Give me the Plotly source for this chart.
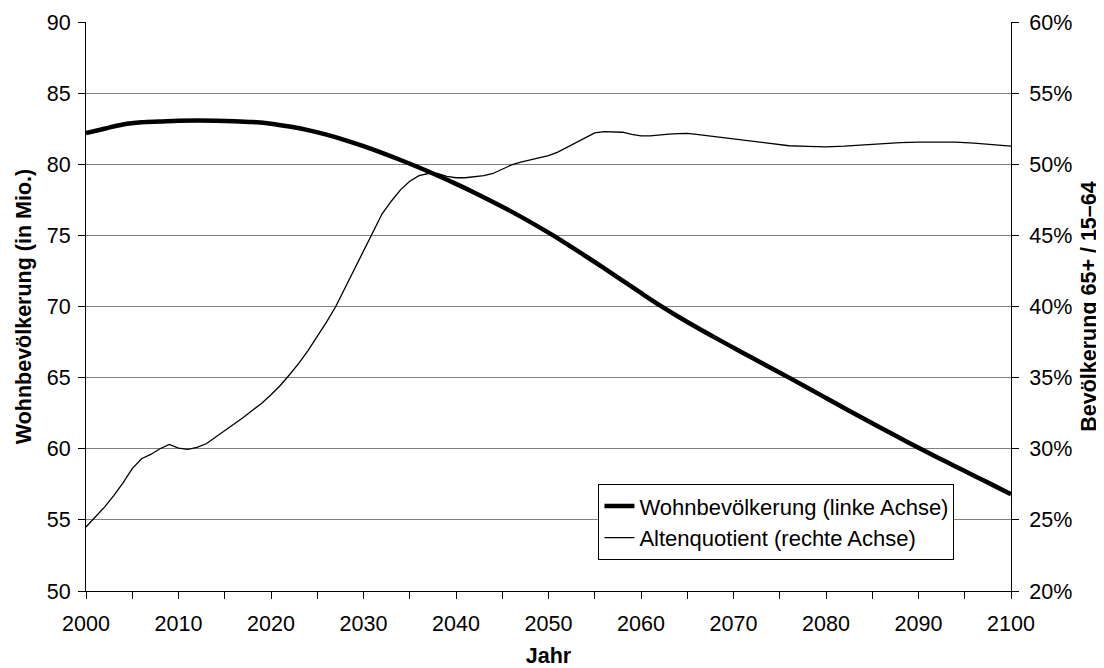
import plotly.graph_objects as go

# --- data ---
years_pop = [2000, 2002, 2004, 2006, 2008, 2010, 2012, 2014, 2016, 2018,
             2020, 2022, 2024, 2026, 2028, 2030, 2032, 2034, 2036, 2038,
             2040, 2042, 2044, 2046, 2048, 2050, 2052, 2054, 2056, 2058,
             2060, 2062, 2064, 2066, 2068, 2070, 2072, 2074, 2076, 2078,
             2080, 2082, 2084, 2086, 2088, 2090, 2092, 2094, 2096, 2098, 2100]
population = [82.2, 82.5, 82.8, 82.95, 83.0, 83.05, 83.07, 83.06, 83.03, 82.97,
              82.85, 82.65, 82.4, 82.08, 81.7, 81.27, 80.8, 80.3, 79.77, 79.21,
              78.62, 78.0, 77.35, 76.67, 75.95, 75.19, 74.39, 73.55, 72.69, 71.82,
              70.95, 70.1, 69.3, 68.54, 67.81, 67.1, 66.4, 65.7, 65.0, 64.29,
              63.57, 62.85, 62.14, 61.44, 60.75, 60.07, 59.41, 58.76, 58.11, 57.46, 56.8]

years_aq = [2000, 2001, 2002, 2003, 2004, 2005, 2006, 2007, 2008, 2009,
            2010, 2011, 2012, 2013, 2014, 2015, 2016, 2017, 2018, 2019,
            2020, 2021, 2022, 2023, 2024, 2025, 2026, 2027, 2028, 2029,
            2030, 2031, 2032, 2033, 2034, 2035, 2036, 2037, 2038, 2039,
            2040, 2041, 2042, 2043, 2044, 2045, 2046, 2047, 2048, 2049,
            2050, 2051, 2052, 2053, 2054, 2055, 2056, 2057, 2058, 2059,
            2060, 2061, 2062, 2063, 2064, 2065, 2066, 2068, 2070, 2072,
            2074, 2076, 2078, 2080, 2082, 2084, 2086, 2088, 2090, 2092,
            2094, 2096, 2098, 2100]
altenquotient = [24.5, 25.2, 25.9, 26.7, 27.6, 28.6, 29.3, 29.6, 30.0, 30.3,
                 30.05, 29.95, 30.1, 30.35, 30.8, 31.3, 31.75, 32.2, 32.7, 33.2,
                 33.8, 34.45, 35.2, 36.0, 36.9, 37.9, 38.9, 40.0, 41.3, 42.6,
                 44.0, 45.3, 46.5, 47.4, 48.2, 48.8, 49.2, 49.35, 49.35, 49.15,
                 49.05, 49.05, 49.1, 49.2, 49.35, 49.65, 49.95, 50.15, 50.3, 50.45,
                 50.6, 50.85, 51.2, 51.55, 51.9, 52.2, 52.3, 52.3, 52.25, 52.1,
                 52.0, 52.0, 52.08, 52.12, 52.15, 52.17, 52.1, 51.95, 51.8, 51.6,
                 51.45, 51.3, 51.25, 51.22, 51.27, 51.35, 51.45, 51.52, 51.55, 51.57,
                 51.55, 51.48, 51.4, 51.28]

name_pop = "Wohnbevölkerung (linke Achse)"
name_aq = "Altenquotient (rechte Achse)"

FONT = "Liberation Sans, Arial, sans-serif"
FS = 21.5

fig = go.Figure()
fig.add_trace(go.Scatter(x=years_pop, y=population, mode="lines", name=name_pop,
                         line=dict(color="black", width=4.5, shape="spline", smoothing=1.0)))
fig.add_trace(go.Scatter(x=years_aq, y=[v / 100 for v in altenquotient], mode="lines",
                         name=name_aq, yaxis="y2",
                         line=dict(color="black", width=1.3)))

# page body has an 8px margin, so the figure is 8px smaller and shifted
fig.update_layout(
    width=1096, height=660,
    margin=dict(l=77.5, r=93, t=13.5, b=77.3, autoexpand=False),
    paper_bgcolor="white", plot_bgcolor="white",
    font=dict(family=FONT, size=FS, color="black"),
    showlegend=True,
    legend=dict(x=0.554, y=0.1875, xanchor="left", yanchor="top",
                bgcolor="white", bordercolor="black", borderwidth=1,
                font=dict(family=FONT, size=22, color="black"),
                tracegroupgap=0, itemwidth=30),
    xaxis=dict(range=[2000, 2100], dtick=10, tick0=2000, automargin=False,
               showline=True, linecolor="black", linewidth=1,
               ticks="outside", ticklen=7, tickcolor="black", ticklabelstandoff=6,
               minor=dict(dtick=5, ticks="outside", ticklen=7, tickcolor="black"),
               showgrid=False, zeroline=False,
               title=dict(text="<b>Jahr</b>", standoff=19,
                          font=dict(family=FONT, size=FS))),
    yaxis=dict(range=[50, 90], dtick=5, tick0=50, automargin=False,
               showline=True, linecolor="black", linewidth=1,
               ticks="outside", ticklen=7, tickcolor="black", ticklabelstandoff=3,
               showgrid=True, gridcolor="#808080", gridwidth=1, zeroline=False,
               title=dict(text="<b>Wohnbevölkerung (in Mio.)</b>", standoff=9,
                          font=dict(family=FONT, size=FS))),
    yaxis2=dict(range=[0.2, 0.6], dtick=0.05, tick0=0.2, tickformat=".0%",
                overlaying="y", side="right", automargin=False,
                showline=True, linecolor="black", linewidth=1,
                ticks="outside", ticklen=7, tickcolor="black", ticklabelstandoff=6,
                showgrid=False, zeroline=False,
                title=dict(text="<b>Bevölkerung 65+ / 15–64</b>", standoff=9,
                           font=dict(family=FONT, size=FS))),
)

fig.write_html("out.html")
